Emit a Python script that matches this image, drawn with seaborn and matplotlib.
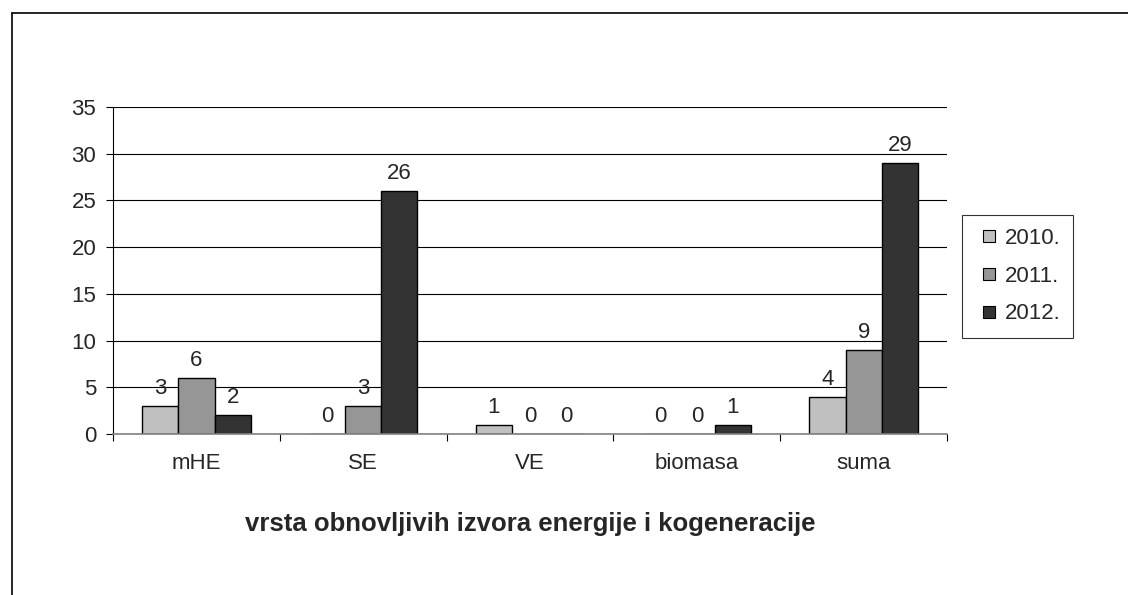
import pandas as pd
import seaborn as sns
import matplotlib.pyplot as plt
from matplotlib.lines import Line2D

categories = ['mHE', 'SE', 'VE', 'biomasa', 'suma']
years = ['2010.', '2011.', '2012.']
v2010 = [3, 0, 1, 0, 4]
v2011 = [6, 3, 0, 0, 9]
v2012 = [2, 26, 0, 1, 29]
colors = ['#c0c0c0', '#969696', '#333333']

df = pd.DataFrame({
    'vrsta': categories * 3,
    'godina': [y for y in years for _ in categories],
    'broj': v2010 + v2011 + v2012,
})

sns.set_style('white')
plt.rcParams['font.family'] = ['Liberation Sans', 'DejaVu Sans']
fs = 16

fig = plt.figure(figsize=(11.28, 5.95), dpi=100)
ax = fig.add_axes([0.1002, 0.2706, 0.7394, 0.5496])
sns.barplot(data=df, x='vrsta', y='broj', hue='godina', palette=colors,
            width=0.65, edgecolor='black', linewidth=1, saturation=1,
            ax=ax, legend=False)

for cont in ax.containers:
    ax.bar_label(cont, padding=5, fontsize=fs)

ax.set_ylim(0, 35)
ax.set_xlim(-0.5, 4.5)
ax.set_yticks(range(0, 36, 5))
ax.yaxis.grid(True, color='black', linewidth=0.8)
ax.set_axisbelow(True)
ax.tick_params(axis='y', labelsize=fs, length=5, width=0.8, pad=7, direction='out', left=True, color='black')

ax.set_xticks([i - 0.5 for i in range(6)])
ax.set_xticklabels([])
ax.set_xticks(range(5), minor=True)
ax.set_xticklabels(categories, minor=True, fontsize=fs)
ax.tick_params(axis='x', which='major', length=5, width=0.8, direction='out', bottom=True, color='black')
ax.tick_params(axis='x', which='minor', length=0, pad=14)

for s in ['top', 'right']:
    ax.spines[s].set_visible(False)
ax.spines['left'].set_color('black')
ax.spines['bottom'].set_color('#808080')
ax.spines['left'].set_linewidth(0.8)
ax.spines['bottom'].set_linewidth(1.2)
ax.set_ylabel('')
ax.set_xlabel('vrsta obnovljivih izvora energije i kogeneracije', fontsize=18.5,
              fontweight='bold', labelpad=27)

handles = [Line2D([], [], marker='s', linestyle='', markersize=9, markerfacecolor=c,
                  markeredgecolor='black', markeredgewidth=0.8) for c in colors]
leg = fig.legend(handles, years, loc='upper left', bbox_to_anchor=(0.853, 0.639),
                 frameon=True, fancybox=False, edgecolor='black', fontsize=fs,
                 handletextpad=0.1, labelspacing=0.75, borderpad=0.6, handlelength=1.2,
                 borderaxespad=0)
leg.get_frame().set_linewidth(0.8)

# outer chart border (top and left edges visible)
fig.add_artist(Line2D([12 / 1128, 1], [1 - 13 / 595, 1 - 13 / 595], color='black', linewidth=1.2,
                      transform=fig.transFigure))
fig.add_artist(Line2D([12 / 1128, 12 / 1128], [0, 1 - 13 / 595], color='black', linewidth=1.2,
                      transform=fig.transFigure))

fig.savefig('out.png', dpi=100)
